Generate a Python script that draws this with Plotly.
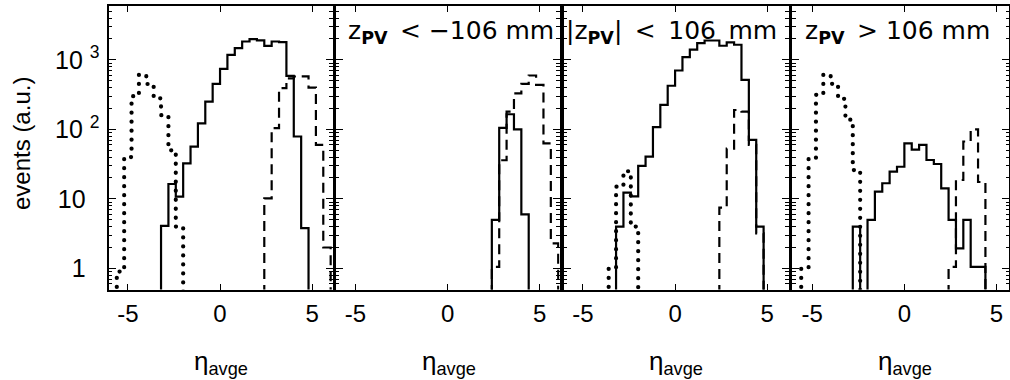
import plotly.graph_objects as go

# ---------------- data ----------------
BIN_WIDTH = 0.4          # eta_avge bin width
ETA_TICKS = [-5, 0, 5]
ETA_TICK_TEXT = ["-5", "0", "5"]
Y_TICKS = [1, 10, 100, 1000]
Y_TICK_TEXT = ["1  ", "10  ", "10 <sup>2</sup>", "10 <sup>3</sup>"]

PANEL_LABELS = ["",
                "z<sub><b>PV</b></sub>\u2002&lt; \u2212106 mm",
                "|z<sub><b>PV</b></sub>|\u2002&lt;\u2002106\u2002mm",
                "z<sub><b>PV</b></sub>\u2002&gt; 106 mm"]
X_TITLE = "\u03b7<sub>avge</sub>"
Y_TITLE = "events (a.u.)"

# panel 1 : all vertices
p1_solid_start = -3.2
p1_solid = [4.1, 16.4, 10.8, 32.5, 56.5, 122, 251, 452, 743, 1181,
            1473, 1837, 1987, 1901, 1592, 1837, 1798, 589, 79, 3.8]
p1_dotted_start = -5.6
p1_dotted = [0.9, 40, 300, 610, 450, 280, 160, 50, 4]
p1_dashed_start = 2.4
p1_dashed = [10.2, 104, 392, 540, 576, 580, 400, 60, 2]

# panel 2 : z_PV < -106 mm
p2_solid_start = 2.4
p2_solid = [5, 105, 165, 100, 6]
p2_dashed_start = 2.4
p2_dashed = [1.05, 36, 180, 330, 453, 596, 438, 63, 2.3]

# panel 3 : |z_PV| < 106 mm
p3_solid_start = -3.2
p3_solid = [4.0, 12.3, 10.9, 29.8, 40.5, 108, 225, 424, 703, 1097,
            1400, 1746, 1900, 1900, 1596, 1780, 1650, 517, 70.6, 4.0]
p3_dotted_start = -3.6
p3_dotted = [1.0, 15, 25, 4]
p3_dashed_start = 2.4
p3_dashed = [7.5, 53, 190, 180, 60, 3.2]

# panel 4 : z_PV > 106 mm
p4_solid_start = -2.8
p4_solid = [4.0, 0, 5, 12.7, 16.8, 24.7, 29, 63, 51, 60,
            36.3, 31.8, 14.2, 5, 1.94, 5, 1.05, 1.05]
p4_dotted_start = -5.6
p4_dotted = [1.0, 39, 314, 610, 452, 275, 138, 26]
p4_dashed_start = 2.4
p4_dashed = [1.05, 18.7, 67, 100, 17.5]

panels = [
    [("solid", p1_solid_start, p1_solid), ("dotted", p1_dotted_start, p1_dotted), ("dashed", p1_dashed_start, p1_dashed)],
    [("solid", p2_solid_start, p2_solid), ("dashed", p2_dashed_start, p2_dashed)],
    [("solid", p3_solid_start, p3_solid), ("dotted", p3_dotted_start, p3_dotted), ("dashed", p3_dashed_start, p3_dashed)],
    [("solid", p4_solid_start, p4_solid), ("dotted", p4_dotted_start, p4_dotted), ("dashed", p4_dashed_start, p4_dashed)],
]

# ---------------- layout geometry ----------------
W, H = 1010, 380
FLOOR = 0.05  # empty bins drop below the visible range
x_domains_px = [(108.5, 332.5), (335.5, 559.5), (563.5, 788.5), (792, 1009)]
x_ranges = [(-6.05, 6.1), (-6.08, 6.07), (-6.05, 6.15), (-6.1, 5.68)]
y_dom = (1 - 289.5 / H, 1 - 5.5 / H)
y_range = (-0.303, 3.782)
minor_vals = [m * 10 ** d for d in range(-1, 4) for m in range(2, 10)]

LINE_STYLES = {
    "solid": dict(color="black", width=2.2),
    "dashed": dict(color="black", width=2.2, dash="10px,6px"),
    "dotted": dict(color="black", width=4.2, dash="0.1px,8.9px"),
}


def step_xy(start, counts):
    edges = [start + BIN_WIDTH * i for i in range(len(counts) + 1)]
    ys = [c if c > 0 else FLOOR for c in counts]
    return [edges[0]] + edges, [FLOOR] + ys + [FLOOR]


fig = go.Figure()
for k, series in enumerate(panels, start=1):
    for style, start, counts in series:
        x, y = step_xy(start, counts)
        fig.add_trace(go.Scatter(
            x=x, y=y, mode="lines", line_shape="hv", line=LINE_STYLES[style],
            xaxis=f"x{k}", yaxis=f"y{k}", hoverinfo="skip", showlegend=False))

SANS = "Liberation Sans, Arial, sans-serif"
XTICK_FONT = dict(family=SANS, size=24, color="black")
YTICK_FONT = dict(family=SANS, size=25, color="black")
layout = dict(width=W, height=H, margin=dict(l=0, r=0, t=0, b=0),
              paper_bgcolor="white", plot_bgcolor="white", showlegend=False)

for k in range(1, 5):
    d0, d1 = x_domains_px[k - 1]
    layout[f"xaxis{k}"] = dict(
        domain=[d0 / W, d1 / W], range=list(x_ranges[k - 1]), anchor=f"y{k}",
        showline=True, linewidth=2, linecolor="black", mirror="ticks",
        ticks="inside", ticklen=6, tickwidth=1.3, tickcolor="black",
        tickvals=ETA_TICKS, ticktext=ETA_TICK_TEXT, tickfont=XTICK_FONT,
        ticklabelstandoff=2, showgrid=False, zeroline=False, fixedrange=True)
    layout[f"yaxis{k}"] = dict(
        domain=list(y_dom), type="log", range=list(y_range), anchor=f"x{k}",
        showline=True, linewidth=2, linecolor="black", mirror="ticks",
        ticks="inside", ticklen=7, tickwidth=1.3, tickcolor="black",
        tickvals=Y_TICKS, ticktext=Y_TICK_TEXT, tickfont=YTICK_FONT,
        showticklabels=(k == 1), ticklabelstandoff=2,
        minor=dict(ticks="inside", ticklen=3.5, tickwidth=1, tickcolor="black",
                   tickvals=minor_vals, showgrid=False),
        showgrid=False, zeroline=False, fixedrange=True)

annotations = []
label_x_px = [None, 346, 564, 803]
for k in range(2, 5):
    annotations.append(dict(
        text=PANEL_LABELS[k - 1], xref="paper", yref="paper",
        x=label_x_px[k - 1] / W, y=1 - 32 / H, xanchor="left", yanchor="middle",
        showarrow=False, font=dict(family="DejaVu Sans, sans-serif", size=25, color="black")))

title_x_px = [221, 449, 676, 905]
for k in range(4):
    annotations.append(dict(
        text=X_TITLE, xref="paper", yref="paper",
        x=title_x_px[k] / W, y=1 - 362 / H, xanchor="center", yanchor="middle",
        showarrow=False, font=dict(family=SANS, size=26, color="black")))

annotations.append(dict(
    text=Y_TITLE, xref="paper", yref="paper", x=21 / W, y=1 - 144 / H,
    xanchor="center", yanchor="middle", textangle=-90, showarrow=False,
    font=dict(family=SANS, size=24, color="black")))

layout["annotations"] = annotations
fig.update_layout(**layout)

POST = """
var gd = document.getElementById('{plot_id}');
gd.querySelectorAll('path.js-line').forEach(function(p){
  var d = p.style.strokeDasharray || '';
  if (d.indexOf('0.1') === 0) { p.style.strokeLinecap = 'round'; }
});
"""
fig.write_html("out.html", post_script=POST)
